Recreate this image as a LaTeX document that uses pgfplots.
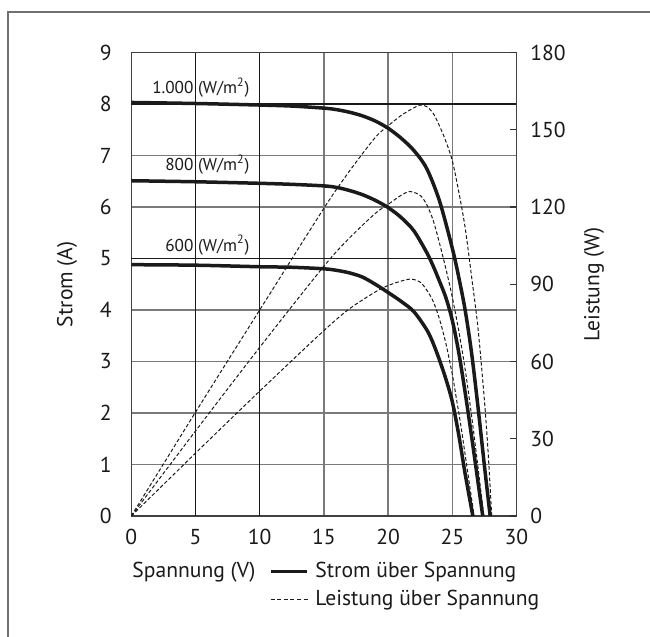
\documentclass[border=0pt]{standalone}
\usepackage{fontspec}
\setmainfont{PT Sans}
\usepackage{pgfplots}
\usepackage{pgfplotstable}
\pgfplotsset{compat=1.18}

% Strom (A) ueber Spannung (V)
\pgfplotstableread{
V I
0 8.03
5 8.01
10 7.98
12.5 7.96
15 7.92
16 7.89
17 7.84
18 7.77
19 7.67
20 7.53
21 7.34
22 7.10
23 6.75
24 6.12
25 5.20
25.5 4.64
26 4.00
26.5 3.17
27 2.12
27.5 0.98
27.95 0
}\stromA
\pgfplotstableread{
V I
0 6.51
5 6.49
10 6.46
12.5 6.44
15 6.41
16 6.38
17 6.32
18 6.24
19 6.13
20 5.99
21 5.80
22 5.54
23 5.12
23.5 4.86
24 4.56
24.5 4.24
25 3.80
25.5 3.18
26 2.40
26.5 1.55
27 0.66
27.37 0
}\stromB
\pgfplotstableread{
V I
0 4.88
5 4.87
10 4.84
12.5 4.83
15 4.80
16 4.77
17 4.72
18 4.64
19 4.50
20 4.34
21 4.17
22 3.97
23 3.62
23.5 3.36
24 3.03
24.5 2.66
25 2.22
25.5 1.58
26 0.82
26.6 0
}\stromC
% Leistung (W) ueber Spannung (V)
\pgfplotstableread{
V P
0 0
5 40.3
10 80
15 119.5
17 134
19 147
20 151.5
21 155.5
22 158.5
22.5 159.6
23 159
23.5 156.5
24 151.5
24.5 145.5
25 138
25.5 126
26 112
26.5 93
27 73
27.5 45
27.8 24
28.07 0
}\leistA
\pgfplotstableread{
V P
0 0
5 33
10 65.5
15 97
17 108
19 117.5
20 121
21 124.5
21.7 126
22.5 124.5
23 121
23.5 115
24 106
24.5 96
25 85
25.5 72
26 57
26.5 39
27 19
27.45 0
}\leistB
\pgfplotstableread{
V P
0 0
5 24.4
10 48.5
15 72
17 80.5
19 87
20 89.5
21 91.2
21.8 92
22.5 90.8
23 87.8
23.5 83.5
24 76.5
24.5 67
25 55
25.34 45
25.7 34
26.2 17
26.7 0
}\leistC

\definecolor{rahmen}{HTML}{707070}
\definecolor{gitter}{HTML}{7A7A7A}
\definecolor{kurve}{HTML}{1A1A1A}

\begin{document}
\begin{tikzpicture}
\pgfplotsset{
  base/.style={
    at={(0pt,0pt)}, anchor=south west,
    scale only axis, width=192.6pt, height=231.75pt,
    xmin=0, xmax=30,
    /pgf/number format/assume math mode=true,
    tick label style={font=\fontsize{10.8pt}{12pt}\selectfont, text=kurve},
    axis line style={black!75, line width=0.75pt},
  },
}
\begin{axis}[base,
  ymin=0, ymax=9,
  xtick={0,5,...,30}, ytick={0,1,...,9},
  major tick length=0pt,
  grid=major,
  major grid style={gitter, line width=0.75pt},
  extra x ticks={5,10}, extra y ticks={5,8},
  extra x tick labels={}, extra y tick labels={},
  extra tick style={grid=major, major grid style={black!90, line width=0.75pt}, major tick length=0pt},
  yticklabel style={anchor=east, inner sep=0pt, xshift=-9.65pt},
  xticklabel style={anchor=north, inner sep=0pt, yshift=-6.3pt},
  strom/.style={kurve, line width=1.75pt, smooth, no markers},
]
\addplot[strom] table[x=V, y=I] {\stromA};
\addplot[strom] table[x=V, y=I] {\stromB};
\addplot[strom] table[x=V, y=I] {\stromC};

\node[anchor=east, inner sep=0pt, font=\fontsize{8.6pt}{10pt}\selectfont, text=kurve] at (axis cs:9.24,8.32) {1.000 (W/m\textsuperscript{2})};
\node[anchor=east, inner sep=0pt, font=\fontsize{8.6pt}{10pt}\selectfont, text=kurve] at (axis cs:9.24,6.82) {800 (W/m\textsuperscript{2})};
\node[anchor=east, inner sep=0pt, font=\fontsize{8.6pt}{10pt}\selectfont, text=kurve] at (axis cs:9.24,5.26) {600 (W/m\textsuperscript{2})};
\end{axis}

\begin{axis}[base,
  ymin=0, ymax=180,
  hide x axis,
  axis y line*=right,
  ytick={0,30,...,180},
  tick align=inside,
  major tick length=3pt,
  tick style={black!80, line width=0.7pt},
  yticklabel style={anchor=west, inner sep=0pt, xshift=6.75pt},
  leistung/.style={kurve, line width=0.5pt, dash pattern=on 1.8pt off 1.1pt, smooth, no markers},
]
\addplot[leistung] table[x=V, y=P] {\leistA};
\addplot[leistung] table[x=V, y=P] {\leistB};
\addplot[leistung] table[x=V, y=P] {\leistC};
\end{axis}

\begin{scope}[font=\fontsize{10.8pt}{12pt}\selectfont, text=kurve]
\node[rotate=90] at (-32.15pt,115.9pt) {Strom (A)};
\node[rotate=90] at (231.35pt,115.9pt) {Leistung (W)};

% Legende
\node[anchor=base west, inner sep=0pt] at (0.35pt,-30.65pt) {Spannung (V)};
\draw[kurve, line width=1.75pt] (69.7pt,-27.75pt) -- (87.7pt,-27.75pt);
\node[anchor=base west, inner sep=0pt] at (91.85pt,-30.65pt) {Strom über Spannung};
\draw[kurve, line width=0.5pt, dash pattern=on 2pt off 1.3pt] (69.7pt,-42pt) -- (89.35pt,-42pt);
\node[anchor=base west, inner sep=0pt] at (91.85pt,-45pt) {Leistung über Spannung};
\end{scope}

% Rahmen
\draw[rahmen, line width=0.75pt] (-61.65pt,-80pt) |- (280pt,252pt);

\pgfresetboundingbox
\path[use as bounding box] (-65.65pt,-60.5pt) rectangle (259.35pt,258pt);
\end{tikzpicture}
\end{document}
